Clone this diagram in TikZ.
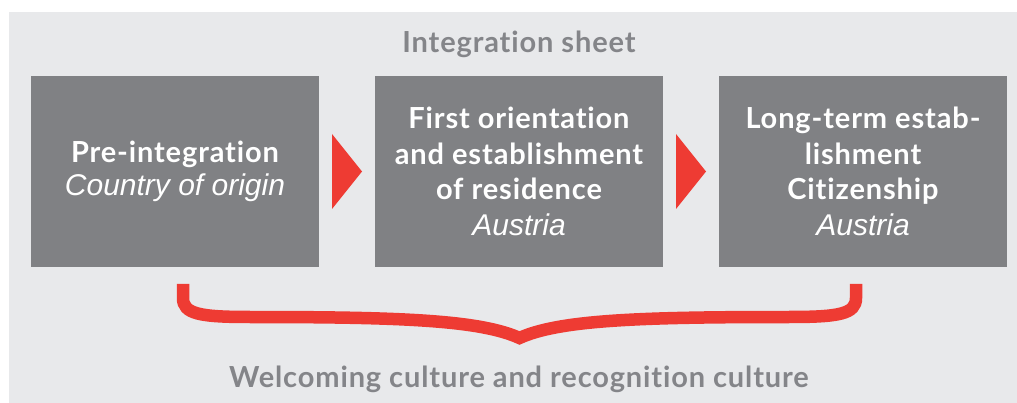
\documentclass[tikz,border=0pt]{standalone}
\usepackage{fontspec}
\setmainfont{Lato}[BoldFont={Lato Bold}, Ligatures={NoCommon}, LetterSpace=3]
\newfontfamily\italicsans{Liberation Sans}
\usetikzlibrary{calc}
\definecolor{panelgrey}{HTML}{E8E9EB}
\definecolor{boxgrey}{HTML}{808184}
\definecolor{labelgrey}{HTML}{848589}
\definecolor{accentred}{HTML}{EE3B33}
\newcommand{\placename}[1]{{\italicsans\mdseries\itshape\fontsize{30}{32}\selectfont #1}}
\begin{document}
\begin{tikzpicture}[x=1pt,y=-1pt,
  stage/.style={fill=boxgrey, minimum width=288pt, minimum height=191pt,
    inner sep=0pt, text=white, align=center},
  heading/.style={text=labelgrey, font=\bfseries\fontsize{29}{32}\selectfont, inner sep=0pt},
  chevron/.style={fill=accentred},
  brace/.style={draw=accentred, line width=12.5pt, line cap=butt, line join=miter}
]
% page and panel
\fill[white] (0,0) rectangle (1017,403);
\fill[panelgrey] (9,12) rectangle (1017,403);
\useasboundingbox (0,0) rectangle (1017,403);

% stages
\node[stage, font=\bfseries\fontsize{29}{33}\selectfont] (pre) at (175,171.5)
  {Pre-integration\\ \placename{Country of origin}};
\node[stage, font=\bfseries\fontsize{29}{35.5}\selectfont] (first) at (519,171.5)
  {First orientation\\ and establishment\\ of residence\\ \placename{Austria}};
\node[stage, font=\bfseries\fontsize{29}{35.5}\selectfont] (long) at (863,171.5)
  {Long-term estab-\\ lishment\\ Citizenship\\ \placename{Austria}};

% headings
\node[heading, anchor=base] (title) at (519,53) {Integration sheet};
\node[heading, anchor=base] (culture) at (519,387) {Welcoming culture and recognition culture};

% chevrons between the stages
\coordinate (m1) at ($(pre.east)!0.5!(first.west)$);
\coordinate (m2) at ($(first.east)!0.5!(long.west)$);
\fill[chevron] ($(m1)+(-15,-37.5)$) -- ($(m1)+(15,0)$) -- ($(m1)+(-15,37.5)$) -- cycle;
\fill[chevron] ($(m2)+(-15,-37.5)$) -- ($(m2)+(15,0)$) -- ($(m2)+(-15,37.5)$) -- cycle;

% curly brace under the stages
\coordinate (bl) at (183,284);
\coordinate (br) at (856,284);
\coordinate (tip) at (519.5,338);
\draw[brace] (bl) -- (183,298)
  .. controls (183,314) and (200,317) .. (250,317)
  .. controls (400,317) and (480,320) .. (tip)
  .. controls (559,320) and (639,317) .. (789,317)
  .. controls (839,317) and (856,314) .. (856,298) -- (br);
\end{tikzpicture}
\end{document}
